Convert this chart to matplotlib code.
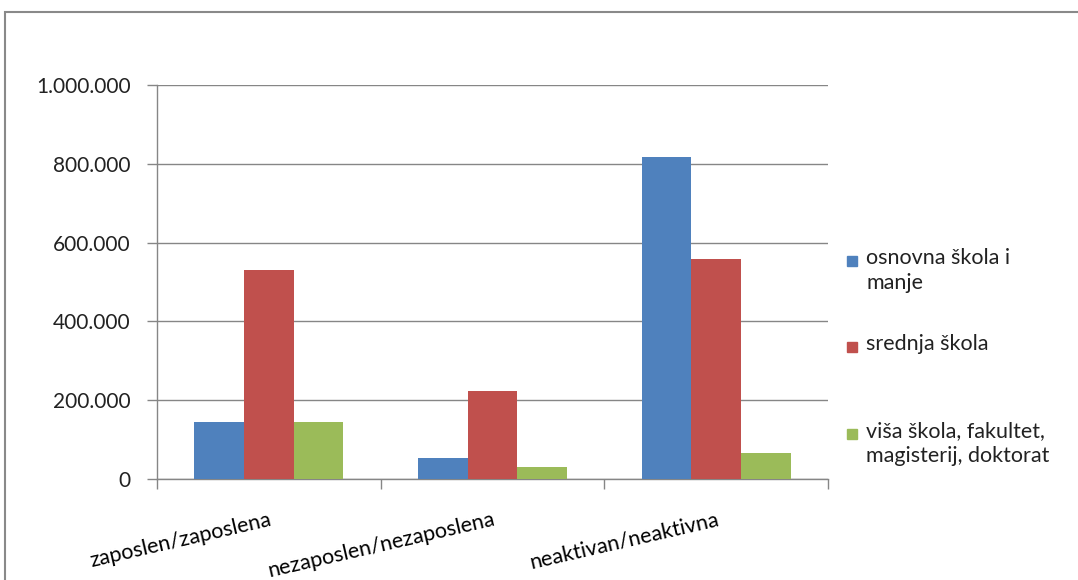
import matplotlib
matplotlib.use("Agg")
import matplotlib.pyplot as plt
import numpy as np
from matplotlib.patches import Rectangle
from matplotlib.ticker import FuncFormatter

categories = ["zaposlen/zaposlena", "nezaposlen/nezaposlena", "neaktivan/neaktivna"]
series_names = ["osnovna škola i\nmanje", "srednja škola", "viša škola, fakultet,\nmagisterij, doktorat"]
osnovna = [144000, 52500, 816500]
srednja = [530500, 224500, 557500]
visa = [144000, 29700, 65500]
colors = ["#4F81BD", "#C0504D", "#9BBB59"]

plt.rcParams['font.family'] = ['Lato', 'DejaVu Sans']

W, H = 1078, 580
fig = plt.figure(figsize=(W / 100, H / 100), dpi=100)
ax = fig.add_axes([157 / W, (H - 479) / H, (828 - 157) / W, (479 - 85) / H])

x = np.arange(len(categories))
bw = 1 / 4.5
for i, (vals, c) in enumerate(zip([osnovna, srednja, visa], colors)):
    ax.bar(x + (i - 1) * bw, vals, width=bw, color=c, zorder=3)

ax.set_xlim(-0.5, len(categories) - 0.5)
ax.set_ylim(0, 1000000)
ax.set_yticks(np.arange(0, 1000001, 200000))
ax.yaxis.set_major_formatter(FuncFormatter(lambda v, p: f"{int(v):,}".replace(",", ".")))
ax.grid(axis='y', color='#868686', linewidth=1, zorder=0)

ax.set_xticks(x)
ax.set_xticklabels(categories, rotation=13, ha='right', va='top', rotation_mode='anchor')
ax.set_xticks(np.arange(-0.5, len(categories)), minor=True)
ax.tick_params(axis='x', which='major', length=0, pad=22, labelsize=15.5, colors='#000000')
ax.tick_params(axis='x', which='minor', length=7, color='#868686', width=1)
ax.tick_params(axis='y', length=7, color='#868686', width=1, labelsize=15, pad=12)
for lab in ax.get_yticklabels():
    lab.set_color('#222222')

for s in ['top', 'right']:
    ax.spines[s].set_visible(False)
for s in ['left', 'bottom']:
    ax.spines[s].set_color('#868686')
    ax.spines[s].set_linewidth(1)

# legend drawn manually
leg_y = [260, 346, 433]
for name, c, yy in zip(series_names, colors, leg_y):
    fig.patches.append(Rectangle((847 / W, 1 - (yy + 6) / H), 10 / W, 10 / H,
                                 transform=fig.transFigure, color=c))
    fig.text(866 / W, 1 - (yy - 12) / H, name, fontsize=15.5, va='top', ha='left',
             linespacing=1.3, color='#222222')

# outer border
fig.patches.append(Rectangle((5 / W, -0.1), 1.2, 1 - 12 / H + 0.1, transform=fig.transFigure,
                             fill=False, edgecolor='#898989', linewidth=1.5))

fig.savefig("out.png", dpi=100)
